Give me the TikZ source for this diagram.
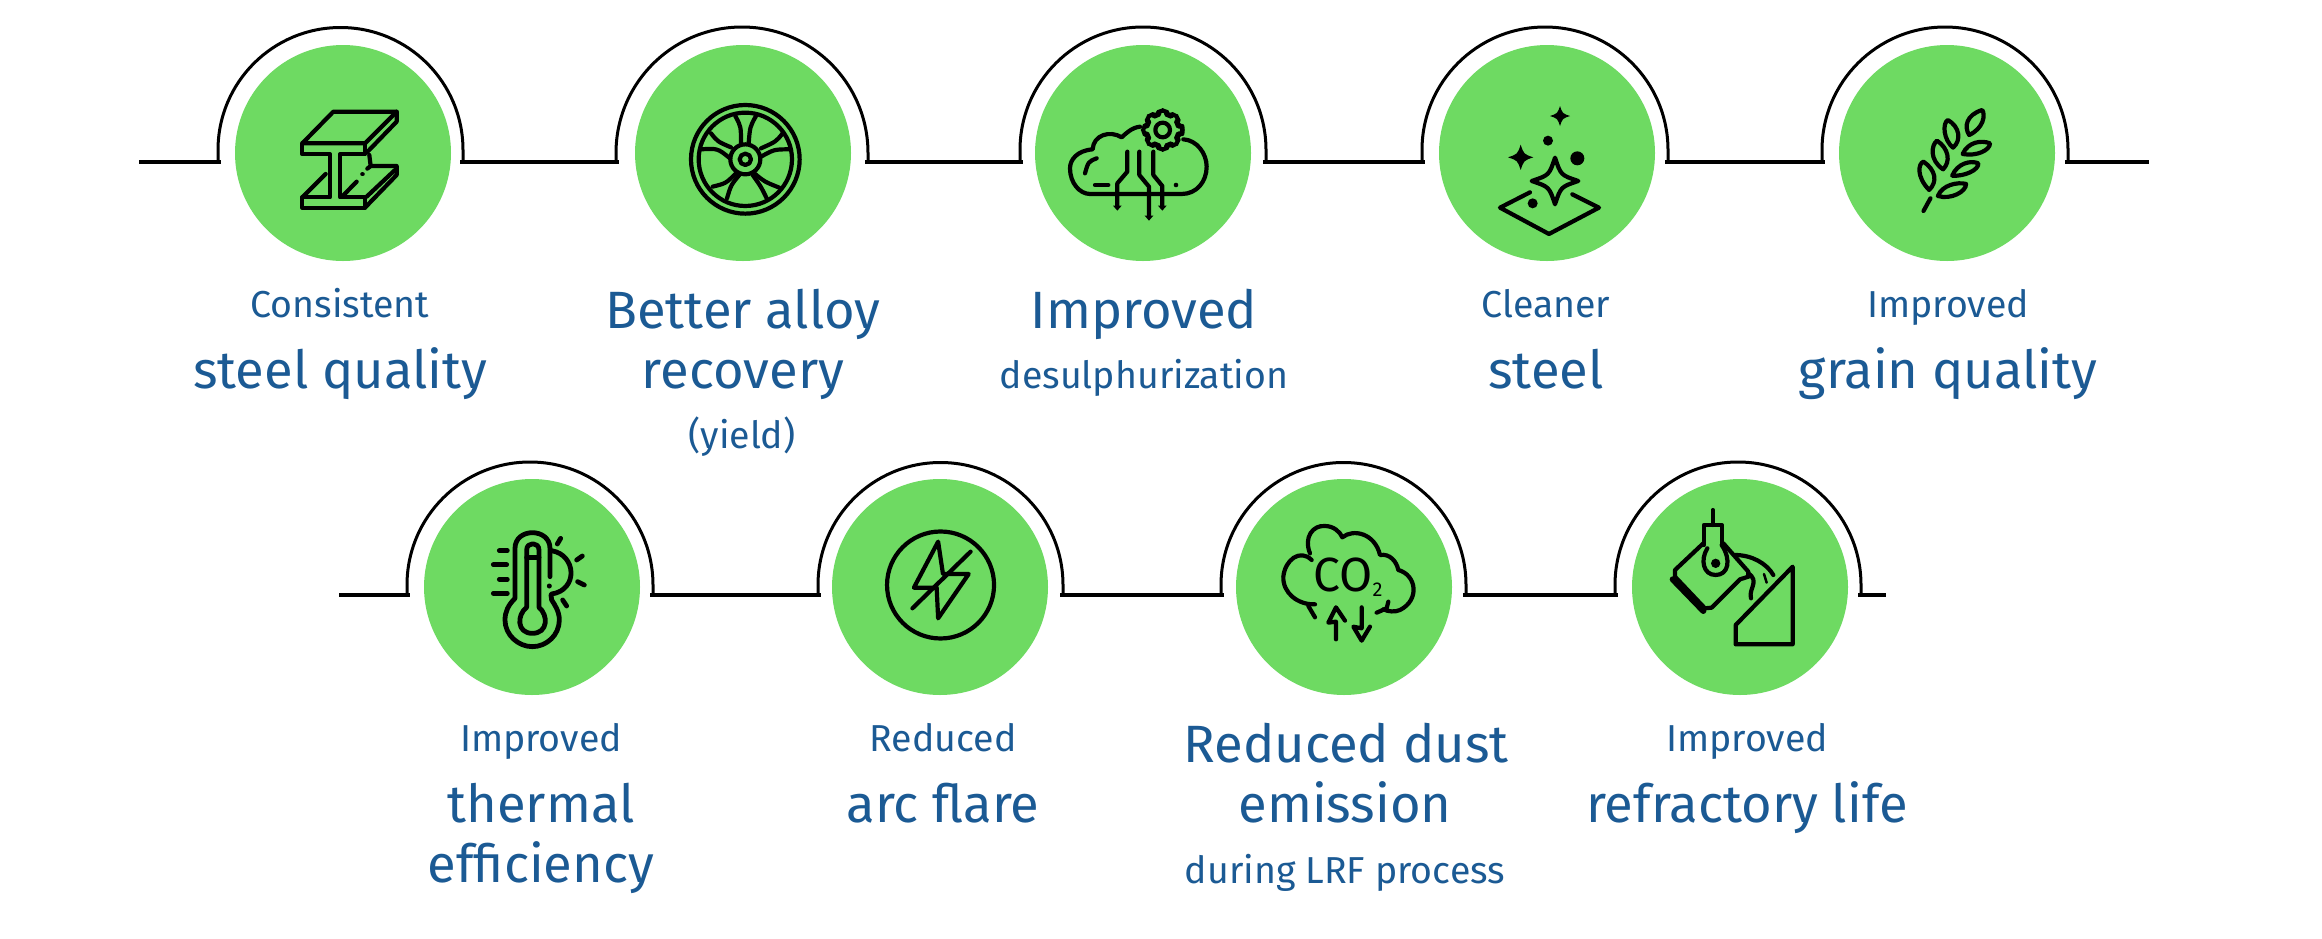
\documentclass[tikz,border=0pt]{standalone}
\usepackage{fontspec}
\setmainfont{Fira Sans}
\definecolor{disc}{HTML}{6EDA62}
\definecolor{ink}{HTML}{1B5A94}
\tikzset{
 discnode/.style={circle,fill=disc,minimum size=216pt,inner sep=0pt},
 rail/.style={line width=3.6pt,black},
 archline/.style={line width=3pt,black},
 big/.style={anchor=base,inner sep=0pt,text=ink,font=\fontsize{52.5}{60}\selectfont},
 small/.style={anchor=base,inner sep=0pt,text=ink,font=\fontsize{37.5}{44}\selectfont},
 icon/.style={line width=4.2pt,black,line cap=round,line join=round},
}
\newcommand\starshape[3]{% cx cy r
 (#1,#2-#3) .. controls (#1+.25*#3,#2-.25*#3) .. (#1+#3,#2) .. controls (#1+.25*#3,#2+.25*#3) .. (#1,#2+#3) .. controls (#1-.25*#3,#2+.25*#3) .. (#1-#3,#2) .. controls (#1-.25*#3,#2-.25*#3) .. cycle}
\begin{document}
\begin{tikzpicture}[x=1pt,y=-1pt]
\useasboundingbox (0,0) rectangle (2322,938);
\fill[white] (0,0) rectangle (2322,938);
% discs
\foreach \n/\x/\y in {1/343/153,2/743/153,3/1143/153,4/1547/153,5/1947/153,6/532/587,7/940/587,8/1344/587,9/1740/587}
  \node[discnode] (c\n) at (\x,\y) {};
% arches
\foreach \n/\l/\r/\y/\cy in {1/218/463/162/150,2/616/868/162/153,3/1020/1266/162/150,4/1422/1668/162/150,5/1822/2068/162/150,6/407/653/595/585,7/818/1063/595/585,8/1221/1466/595/585,9/1615/1861/595/585}{
  \coordinate (a\n L) at (\l,\y);
  \coordinate (a\n R) at (\r,\y);
  \pgfmathsetmacro\rad{(\r-\l)/2}
  \draw[archline] (a\n L) -- (\l,\cy) arc[start angle=180,end angle=0,radius=\rad pt] -- (a\n R);
}
\coordinate (s1) at (139,162);
\coordinate (e1) at (2149,162);
\coordinate (s2) at (339,595);
\coordinate (e2) at (1886,595);
\draw[rail] (s1) -- ([xshift=3pt]a1L);
\draw[rail] ([xshift=-3pt]a1R) -- ([xshift=3pt]a2L);
\draw[rail] ([xshift=-3pt]a2R) -- ([xshift=3pt]a3L);
\draw[rail] ([xshift=-3pt]a3R) -- ([xshift=3pt]a4L);
\draw[rail] ([xshift=-3pt]a4R) -- ([xshift=3pt]a5L);
\draw[rail] ([xshift=-3pt]a5R) -- (e1);
\draw[rail] (s2) -- ([xshift=3pt]a6L);
\draw[rail] ([xshift=-3pt]a6R) -- ([xshift=3pt]a7L);
\draw[rail] ([xshift=-3pt]a7R) -- ([xshift=3pt]a8L);
\draw[rail] ([xshift=-3pt]a8R) -- ([xshift=3pt]a9L);
\draw[rail] ([xshift=-3pt]a9R) -- (e2);
% texts
\node[small] (t1a) at (340,317) {Consistent};
\node[big] (t1b) at (340,388) {steel quality};
\node[big] (t2a) at (743,328) {Better alloy};
\node[big] (t2b) at (743,388) {recovery};
\node[small] (t2c) at (742,448) {(yield)};
\node[big] (t3a) at (1144,328) {Improved};
\node[small] (t3b) at (1144,388) {desulphurization};
\node[small] (t4a) at (1546,317) {Cleaner};
\node[big] (t4b) at (1546,388) {steel};
\node[small] (t5a) at (1948,317) {Improved};
\node[big] (t5b) at (1948,388) {grain quality};
\node[small] (t6a) at (541,751) {Improved};
\node[big] (t6b) at (541,822) {thermal};
\node[big] (t6c) at (541,882) {efficiency};
\node[small] (t7a) at (943,751) {Reduced};
\node[big] (t7b) at (943,822) {arc flare};
\node[big] (t8a) at (1346,762) {Reduced dust};
\node[big] (t8b) at (1345,822) {emission};
\node[small] (t8c) at (1345,883) {during LRF process};
\node[small] (t9a) at (1747,751) {Improved};
\node[big] (t9b) at (1747,822) {refractory life};
% icon 1: I-beam
\begin{scope}[shift={(260,60)},x=.3333pt,y=-.3333pt,icon]
 \draw (127,250) -- (220,155) -- (410,155) -- (315,250) -- cycle;
 \draw (127,250) -- (127,283) -- (210,283) -- (210,412) -- (127,412) -- (127,443) -- (315,443) -- (315,412) -- (240,412) -- (240,283) -- (315,283) -- (315,250);
 \draw (410,155) -- (410,185) -- (320,278);
 \draw (127,412) -- (197,342);
 \draw (248,408) -- (290,365);
 \draw (307,343) -- (308,343);
 \draw (328,285) -- (332,318) -- (322,326);
 \draw (332,318) -- (410,318) -- (410,345) -- (315,443);
 \draw (320,410) -- (405,330);
\end{scope}
% icon 2: wheel
\begin{scope}[shift={(676,90)},x=.3333pt,y=-.3333pt,icon]
 \draw (208,208) circle[radius=163*.3333pt];
 \draw (208,208) circle[radius=140*.3333pt];
 \draw (208,208) circle[radius=45*.3333pt];
 \draw (208,208) circle[radius=17*.3333pt];
 \draw (178,78) .. controls (195,110) .. (195,160);
 \draw (240,78) .. controls (222,110) .. (218,160);
 \draw (105,130) .. controls (125,155) .. (165,172);
 \draw (320,130) .. controls (300,155) .. (255,175);
 \draw (75,178) .. controls (125,175) .. (162,205);
 \draw (342,178) .. controls (295,178) .. (255,200);
 \draw (110,290) .. controls (150,280) .. (180,250);
 \draw (310,293) .. controls (265,275) .. (235,250);
 \draw (153,325) .. controls (165,285) .. (190,255);
 \draw (272,325) .. controls (255,290) .. (230,255);
\end{scope}
% icon 3: cloud with gear
\begin{scope}[shift={(1040,60)},x=.3333pt,y=-.3333pt,icon]
 \draw (300,200) .. controls (275,203) and (258,220) .. (245,232)
   .. controls (210,210) and (160,225) .. (158,268)
   .. controls (110,272) and (90,300) .. (90,325)
   .. controls (90,370) and (120,402) .. (150,402)
   -- (425,402) .. controls (470,402) and (500,365) .. (500,320)
   .. controls (500,280) and (470,240) .. (430,238);
 \draw[rounded corners=4pt] (428,210)
   \foreach \a in {0,45,...,315}{
     -- ({368+60*cos(\a+10)},{210+60*sin(\a+10)})
     -- ({368+47*cos(\a+18)},{210+47*sin(\a+18)})
     -- ({368+47*cos(\a+27)},{210+47*sin(\a+27)})
     -- ({368+60*cos(\a+35)},{210+60*sin(\a+35)})
   } -- cycle;
 \draw (368,210) circle[radius=22*.3333pt];
 \draw (262,275) -- (262,335) -- (232,370) -- (232,440);
 \draw (298,275) -- (298,345) -- (327,380) -- (327,470);
 \draw (340,275) -- (340,345) -- (367,378) -- (367,440);
 \fill (219,437) -- (245,437) -- (232,452) -- cycle;
 \fill (354,437) -- (380,437) -- (367,452) -- cycle;
 \fill (314,467) -- (340,467) -- (327,482) -- cycle;
 \draw (165,375) -- (205,375);
 \fill (408,375) circle[radius=2.3pt];
 \draw (170,295) .. controls (145,305) .. (135,340);
\end{scope}
% icon 4: clean surface
\begin{scope}[shift={(1480,90)},x=.3333pt,y=-.3333pt,icon]
 \fill \starshape{240}{78}{30};
 \fill \starshape{122}{202}{38};
 \fill (204,152) circle[radius=15*.3333pt];
 \fill (292,205) circle[radius=21*.3333pt];
 \fill (158,340) circle[radius=15*.3333pt];
 \draw \starshape{225}{273}{70};
 \draw (150,307) -- (60,353) -- (207,432) -- (357,353) -- (277,313);
\end{scope}
% icon 5: wheat
\begin{scope}[shift={(1640,0)},x=.4348pt,y=-.3333pt,icon]
 \draw (668,595) -- (652,633);
 \draw (665,570) .. controls (635,530) and (640,490) .. (652,485) .. controls (680,510) and (685,545) .. cycle;
 \draw (697,508) .. controls (665,480) and (670,435) .. (683,422) .. controls (710,445) and (715,485) .. cycle;
 \draw (720,443) .. controls (698,420) and (695,370) .. (708,360) .. controls (735,380) and (740,420) .. cycle;
 \draw (757,405) .. controls (745,380) and (750,345) .. (787,330) .. controls (795,345) and (790,385) .. cycle;
 \draw (742,462) .. controls (755,425) and (785,420) .. (805,430) .. controls (805,450) and (775,470) .. cycle;
 \draw (718,527) .. controls (730,490) and (760,480) .. (778,490) .. controls (780,510) and (745,530) .. cycle;
 \draw (685,588) .. controls (695,555) and (730,545) .. (750,552) .. controls (750,575) and (715,600) .. cycle;
\end{scope}
% icon 6: thermometer
\begin{scope}[shift={(470,520)},x=.3333pt,y=-.3333pt,icon,line width=4.8pt]
 \draw (240,170) -- (240,85) .. controls (240,55) and (215,38) .. (187,38) .. controls (160,38) and (135,55) .. (135,85) -- (135,235)
   .. controls (115,255) and (105,275) .. (105,300) .. controls (105,345) and (145,380) .. (187,380)
   .. controls (230,380) and (268,345) .. (268,300) .. controls (268,275) and (255,255) .. (245,240) -- (243,225);
 \fill (238,198) circle[radius=2.5pt];
 \draw (170,262) -- (170,90) .. controls (170,65) and (207,65) .. (207,90) -- (207,262)
   .. controls (235,285) and (235,340) .. (187,340) .. controls (140,340) and (140,285) .. (170,262);
 \draw (170,112) -- (207,112);
 \draw (245,92) .. controls (320,105) and (325,210) .. (245,222);
 \draw (262,72) -- (272,55);
 \draw (320,120) -- (337,108);
 \draw (323,185) -- (343,195);
 \draw (278,240) -- (290,258);
 \draw (88,92) -- (112,92);
 \draw (70,134) -- (110,134);
 \draw (88,178) -- (112,178);
 \draw (70,220) -- (112,220);
\end{scope}
% icon 7: bolt
\begin{scope}[shift={(320,440)},x=.4848pt,y=-.3333pt,icon]
 \draw (1280,435) ellipse[x radius=53.5pt,y radius=53.5pt];
 \draw (1275,305) -- (1225,443) -- (1272,443) -- (1275,535) -- (1338,402) -- (1285,402) -- cycle;
 \draw (1342,335) -- (1222,505);
\end{scope}
% icon 8: CO2 cloud
\begin{scope}[shift={(1210,510)},x=.3333pt,y=-.3333pt,icon]
 \draw (300,130) .. controls (280,80) and (310,45) .. (345,48) .. controls (370,48) and (390,65) .. (397,82)
   .. controls (430,55) and (495,70) .. (510,135)
   .. controls (540,130) and (560,155) .. (565,180)
   .. controls (620,195) and (630,270) .. (570,300) .. controls (555,307) and (535,305) .. (520,298);
 \draw (500,308) -- (530,295) -- (535,275);
 \draw (305,150) .. controls (270,115) and (225,150) .. (220,200) .. controls (218,250) and (265,285) .. (315,283);
 \draw (295,288) -- (315,322);
 \node[inner sep=0pt,anchor=base,font=\fontsize{48}{48}\selectfont] (co) at (398,243) {CO};
 \node[inner sep=0pt,anchor=base,font=\fontsize{20}{20}\selectfont] (two) at (503,260) {2};
 \draw (378,388) -- (378,335) -- (355,338) -- (378,292) -- (405,332);
 \draw (455,292) -- (455,355) -- (430,350) -- (455,392) -- (480,350);
\end{scope}
% icon 9: ladle
\begin{scope}[shift={(1620,510)},x=.3333pt,y=-.3333pt,icon]
 \draw (278,0) -- (278,45);
 \draw (252,105) -- (252,45) -- (305,45) -- (305,105);
 \draw (262,115) .. controls (240,150) and (250,195) .. (287,195) .. controls (325,195) and (335,150) .. (305,105);
 \fill (287,160) circle[radius=14*.3333pt];
 \draw (250,100) -- (165,180) -- (165,200) -- (255,295) -- (275,293) -- (360,208) -- (385,200);
 \draw[line width=6pt] (158,208) -- (250,303);
 \draw (310,100) -- (385,185) -- (385,200);
 \draw (345,135) .. controls (395,135) and (440,160) .. (460,195);
 \draw (385,190) .. controls (420,215) and (385,235) .. (393,265);
 \draw[line width=2.5pt] (432,192) -- (440,218);
 \draw (518,170) -- (518,403) -- (347,403) -- (347,345) -- cycle;
\end{scope}
\end{tikzpicture}
\end{document}
